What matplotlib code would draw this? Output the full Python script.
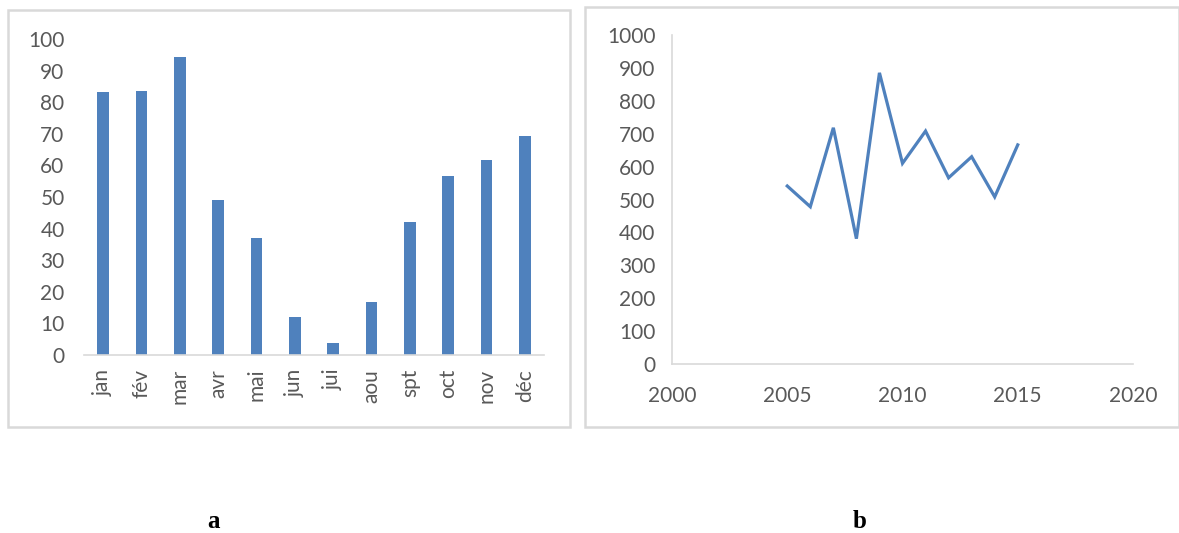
import matplotlib.pyplot as plt
from matplotlib.patches import Rectangle

# monthly values (panel a)
mois = ['jan', 'fév', 'mar', 'avr', 'mai', 'jun', 'jui', 'aou', 'spt', 'oct', 'nov', 'déc']
valeurs = [83.1, 83.5, 94.4, 49.0, 36.9, 12.1, 3.7, 16.7, 42.2, 56.7, 61.6, 69.4]

# yearly totals (panel b)
annees = [2005, 2006, 2007, 2008, 2009, 2010, 2011, 2012, 2013, 2014, 2015]
totaux = [541, 478, 718, 381, 885, 610, 708, 566, 630, 508, 666]

W, H = 1179, 533
bleu = '#4f81bd'
gris_txt = '#595959'
gris_ax = '#d9d9d9'

plt.rcParams['font.family'] = ['Lato', 'DejaVu Sans']

fig = plt.figure(figsize=(W / 100, H / 100), dpi=100)


def px_box(x0, y0, x1, y1):
    # pixel box (top-left origin) -> figure fraction [l, b, w, h]
    return [x0 / W, 1 - y1 / H, (x1 - x0) / W, (y1 - y0) / H]


# panel frames
for x0, y0, x1, y1 in [(8, 10, 570, 427), (585, 7, 1179, 427)]:
    l, b, w, h = px_box(x0, y0, x1, y1)
    fig.patches.append(Rectangle((l, b), w, h, transform=fig.transFigure,
                                 fill=False, edgecolor=gris_ax, linewidth=1.8))

# panel a: bars
ax1 = fig.add_axes(px_box(84, 39, 544, 355))
ax1.bar(range(len(mois)), valeurs, width=0.3, color=bleu)
ax1.set_xlim(-0.5, len(mois) - 0.5)
ax1.set_ylim(0, 100)
ax1.set_yticks(range(0, 101, 10))
ax1.set_xticks(range(len(mois)))
ax1.set_xticklabels(mois, rotation=90)
for s in ['top', 'right', 'left']:
    ax1.spines[s].set_visible(False)
ax1.spines['bottom'].set_color(gris_ax)
ax1.spines['bottom'].set_linewidth(1.2)
ax1.tick_params(axis='y', length=0, pad=14, labelsize=15, labelcolor=gris_txt)
ax1.tick_params(axis='x', length=0, pad=10, labelsize=15, labelcolor=gris_txt)

# panel b: line
ax2 = fig.add_axes(px_box(672, 35, 1133, 364))
ax2.plot(annees, totaux, color=bleu, linewidth=2.3, solid_joinstyle='miter')
ax2.set_xlim(2000, 2020)
ax2.set_ylim(0, 1000)
ax2.set_xticks(range(2000, 2021, 5))
ax2.set_yticks(range(0, 1001, 100))
for s in ['top', 'right']:
    ax2.spines[s].set_visible(False)
for s in ['left', 'bottom']:
    ax2.spines[s].set_color(gris_ax)
    ax2.spines[s].set_linewidth(1.2)
ax2.tick_params(axis='y', length=0, pad=12, labelsize=15, labelcolor=gris_txt)
ax2.tick_params(axis='x', length=0, pad=16, labelsize=15, labelcolor=gris_txt)

# panel letters
for x, lettre in [(213, 'a'), (860, 'b')]:
    fig.text(x / W, 1 - 522 / H, lettre, ha='center', va='center',
             fontsize=18, fontweight='bold', family='Liberation Serif')

fig.savefig('out.png', dpi=100)
